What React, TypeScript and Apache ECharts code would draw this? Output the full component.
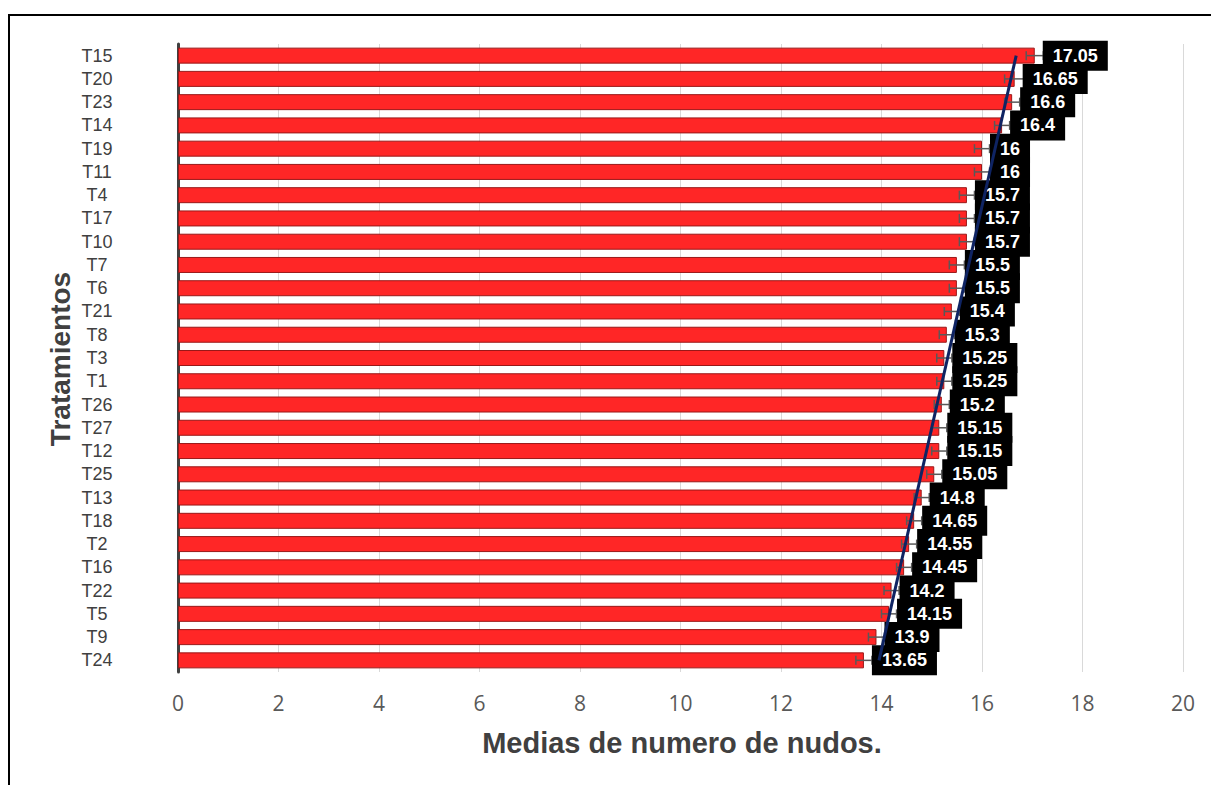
import React, { useEffect, useRef } from "react";
import * as echarts from "echarts";

const categories = ["T15", "T20", "T23", "T14", "T19", "T11", "T4", "T17", "T10", "T7", "T6", "T21", "T8", "T3", "T1", "T26", "T27", "T12", "T25", "T13", "T18", "T2", "T16", "T22", "T5", "T9", "T24"];
const values = [17.05, 16.65, 16.6, 16.4, 16, 16, 15.7, 15.7, 15.7, 15.5, 15.5, 15.4, 15.3, 15.25, 15.25, 15.2, 15.15, 15.15, 15.05, 14.8, 14.65, 14.55, 14.45, 14.2, 14.15, 13.9, 13.65];
const errors = [0.17, 0.2, 0.15, 0.15, 0.15, 0.15, 0.15, 0.15, 0.15, 0.15, 0.15, 0.15, 0.15, 0.15, 0.15, 0.15, 0.15, 0.15, 0.15, 0.15, 0.15, 0.15, 0.15, 0.15, 0.15, 0.16, 0.16];
const trendStart = 16.68;
const trendEnd = 13.95;
const xTicks = { min: 0, max: 20, interval: 2 };

export default function App() {
  const ref = useRef<HTMLDivElement>(null);
  useEffect(() => {
    if (!ref.current) return;
    const chart = echarts.init(ref.current, null, { renderer: "svg" });
    const errData = categories.map((c, i) => [values[i], i, errors[i]]);
    const trendData = [
      [trendStart, 0],
      [trendEnd, categories.length - 1],
    ];
    chart.setOption({
      animation: false,
      backgroundColor: "#fff",
      grid: { left: 178, right: 28, top: 44, bottom: 113, containLabel: false },
      xAxis: {
        type: "value",
        min: xTicks.min,
        max: xTicks.max,
        interval: xTicks.interval,
        axisLine: { show: false },
        axisTick: { show: false },
        axisLabel: { color: "#595959", fontSize: 21, fontFamily: "Open Sans", margin: 20 },
        splitLine: { show: true, lineStyle: { color: "#D9D9D9", width: 1 } },
      },
      yAxis: {
        type: "category",
        data: categories,
        inverse: true,
        axisLine: { show: true, lineStyle: { color: "#404040", width: 3 } },
        axisTick: { show: false },
        axisLabel: { color: "#404040", fontSize: 18, fontFamily: "Liberation Sans", align: "center", margin: 81, interval: 0 },
        splitLine: { show: false },
      },
      graphic: [
        {
          type: "rect",
          shape: { x: 9, y: 15, width: 1400, height: 1000 },
          style: { fill: "none", stroke: "#000", lineWidth: 2 },
          silent: true,
        },
        {
          type: "text",
          x: 60,
          y: 359,
          rotation: Math.PI / 2,
          style: {
            text: "Tratamientos",
            fill: "#404040",
            font: "bold 28px 'Liberation Sans'",
            align: "center",
            verticalAlign: "middle",
          },
        },
        {
          type: "text",
          x: 682,
          y: 743,
          style: {
            text: "Medias de numero de nudos.",
            fill: "#404040",
            font: "bold 29px 'Liberation Sans'",
            align: "center",
            verticalAlign: "middle",
          },
        },
      ],
      series: [
        {
          type: "bar",
          data: values,
          barWidth: 16,
          z: 2,
          itemStyle: { color: "#FF2626", borderColor: "#9A1818", borderWidth: 1 },
        },
        {
          type: "custom",
          z: 3,
          data: errData,
          encode: { x: 0, y: 1 },
          renderItem: (params: any, api: any) => {
            const v = api.value(0);
            const i = api.value(1);
            const e = api.value(2);
            const p = api.coord([v, i]);
            const pl = api.coord([v - e, i]);
            const pr = api.coord([v + e, i]);
            const h = 4.5;
            const ls = { stroke: "#595959", lineWidth: 1.5 };
            return {
              type: "group",
              children: [
                { type: "line", shape: { x1: pl[0], y1: p[1], x2: pr[0], y2: p[1] }, style: ls },
                { type: "line", shape: { x1: pl[0], y1: p[1] - h, x2: pl[0], y2: p[1] + h }, style: ls },
                { type: "line", shape: { x1: pr[0], y1: p[1] - h, x2: pr[0], y2: p[1] + h }, style: ls },
                {
                  type: "text",
                  x: p[0] + 8,
                  y: p[1],
                  style: {
                    text: String(v),
                    fill: "#fff",
                    font: "bold 18px 'Liberation Sans'",
                    backgroundColor: "#000",
                    padding: [6, 10, 6, 10],
                    align: "left",
                    verticalAlign: "middle",
                  },
                },
              ],
            };
          },
        },
        {
          type: "line",
          z: 4,
          data: trendData,
          encode: { x: 0, y: 1 },
          symbol: "none",
          lineStyle: { color: "#0F2463", width: 3 },
        },
      ],
    });
    return () => chart.dispose();
  }, []);
  return (
    <div style={{ position: "fixed", left: 0, top: 0, width: 1211, height: 785, background: "#fff" }}>
      <div ref={ref} style={{ width: 1211, height: 785 }} />
    </div>
  );
}
